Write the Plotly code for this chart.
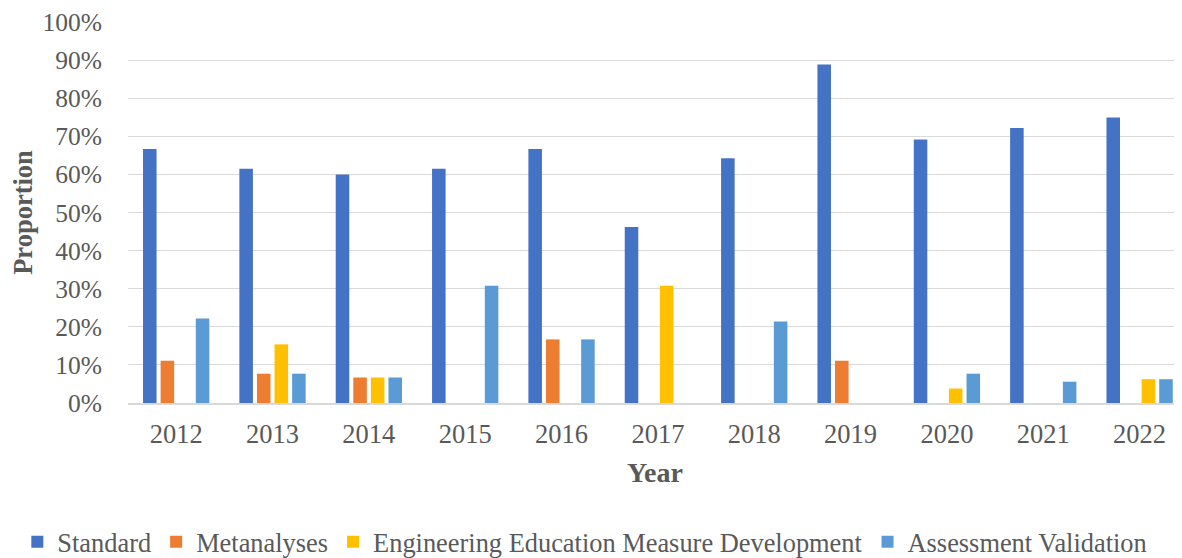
import plotly.graph_objects as go

years = ["2012", "2013", "2014", "2015", "2016", "2017", "2018", "2019", "2020", "2021", "2022"]
standard = [0.667, 0.615, 0.600, 0.615, 0.667, 0.462, 0.643, 0.889, 0.692, 0.722, 0.750]
metanalyses = [0.111, 0.077, 0.067, 0.0, 0.167, 0.0, 0.0, 0.111, 0.0, 0.0, 0.0]
eng_ed_measure = [0.0, 0.154, 0.067, 0.0, 0.0, 0.308, 0.0, 0.0, 0.038, 0.0, 0.0625]
assessment_validation = [0.222, 0.077, 0.067, 0.308, 0.167, 0.0, 0.214, 0.0, 0.077, 0.056, 0.0625]
y_ticks = [0.0, 0.1, 0.2, 0.3, 0.4, 0.5, 0.6, 0.7, 0.8, 0.9, 1.0]
y_tick_labels = ["0%", "10%", "20%", "30%", "40%", "50%", "60%", "70%", "80%", "90%", "100%"]

series = [
    ("Standard", standard, "#4472C4"),
    ("Metanalyses", metanalyses, "#ED7D31"),
    ("Engineering Education Measure Development", eng_ed_measure, "#FFC000"),
    ("Assessment Validation", assessment_validation, "#5B9BD5"),
]

FONT = "Liberation Serif, Times New Roman, serif"
TXT = "#595959"

fig = go.Figure()
for name, vals, color in series:
    fig.add_trace(go.Bar(x=years, y=vals, name=name, marker=dict(color=color, line=dict(width=0))))

# page body has an 8px margin, so the figure is sized to fill the rest of the window
fig.update_layout(
    width=1174, height=550,
    margin=dict(l=120, r=0, t=13.5, b=154.5, autoexpand=False),
    paper_bgcolor="white", plot_bgcolor="white",
    barmode="group", bargap=0.27, bargroupgap=0.23,
    font=dict(family=FONT, color=TXT, size=25),
    showlegend=True,
    legend=dict(orientation="h", x=-0.105, xanchor="left", y=-0.365, yanchor="middle",
                font=dict(size=26.4, family=FONT, color=TXT), itemwidth=30,
                traceorder="normal"),
)
fig.update_xaxes(
    type="category", range=[-0.5, 10.44], automargin=False,
    showgrid=False, showline=True, linecolor="#D9D9D9", linewidth=1.5,
    ticks="", ticklabelstandoff=6, tickfont=dict(size=26.5, family=FONT, color=TXT),
    title=dict(text="<b>Year</b>", font=dict(size=28, family=FONT, color=TXT), standoff=15),
)
fig.update_yaxes(
    range=[0, 1.0005], tickmode="array", tickvals=y_ticks, ticktext=y_tick_labels,
    automargin=False,
    showgrid=True, gridcolor="#D9D9D9", gridwidth=1.3,
    zeroline=False, showline=False,
    ticks="", ticklabelstandoff=25,
    tickfont=dict(size=25.5, family=FONT, color=TXT),
    title=dict(text="<b>Proportion</b>", font=dict(size=26.5, family=FONT, color=TXT), standoff=16),
)

fig.write_html("out.html")
